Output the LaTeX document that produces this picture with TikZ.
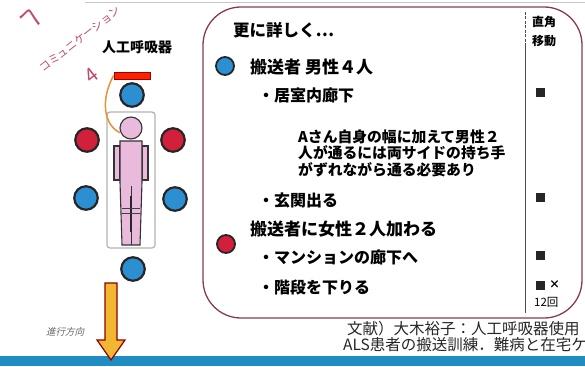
\documentclass[tikz,border=0pt]{standalone}
\usepackage{fontspec}
\setmainfont{Noto Sans CJK JP}
\newfontfamily\slantjp{Noto Sans CJK JP}[FakeSlant=0.25]
\newcommand{\jpsize}[1]{\fontsize{#1}{#1}\selectfont}

\definecolor{bluefill}{HTML}{2C8FD2}
\definecolor{redfill}{HTML}{D21F3C}
\definecolor{skin}{HTML}{E9BADC}
\definecolor{boxline}{HTML}{8A3A48}
\definecolor{pen}{HTML}{C4486A}
\definecolor{tubecol}{HTML}{E3923A}
\definecolor{arrowfill}{HTML}{F2B731}
\definecolor{barblue}{HTML}{1F8DC2}

\begin{document}
\begin{tikzpicture}[x=1pt,y=-1pt,
    bluedot/.style={circle,draw=black!85,line width=2.2pt,fill=bluefill,minimum size=23.5pt,inner sep=0pt},
    reddot/.style={bluedot,fill=redfill},
    keydot/.style={circle,draw=black!85,line width=1.8pt,minimum size=18pt,inner sep=0pt},
    item/.style={anchor=west,inner sep=0pt,font=\bfseries\jpsize{17}},
    subitem/.style={item,font=\bfseries\jpsize{16}},
    sqmark/.style={fill=black!85,minimum size=9pt,inner sep=0pt},
    body/.style={fill=skin,draw=black!80,line width=1.1pt},
    handnote/.style={text=pen,inner sep=0pt},
  ]
\useasboundingbox (0,0) rectangle (585,366);
\clip (0,0) rectangle (585,366);

% scan edge and bottom bar
\draw[black!22,line width=1pt] (85,2.5) -- (585,2.5);
\fill[barblue] (0,356) rectangle (585,366);

% --- left: patient on stretcher with carriers ---
\node[font=\bfseries\jpsize{14}] (ventlabel) at (137,47) {人工呼吸器};
\node[fill=red!75!orange,draw=red!60!black,line width=0.8pt,minimum width=36pt,minimum height=7pt,inner sep=0pt] (vent) at (132,75.5) {};
\draw[black!30,line width=1.2pt,rounded corners=3] (107,112) rectangle (155,248);

% arms, body, head
\draw[body] (114,146) rectangle (120,180);
\draw[body] (142,146) rectangle (148,180);
\draw[body] (120,141) -- (142,141) -- (142,182) -- (140,245) -- (122,245) -- (120,182) -- cycle;
\draw[black!80,line width=0.8pt] (131,186) -- (131,245);
\draw[black!85,line width=1.6pt] (131,196) -- (131,232);
\draw[black!75,line width=0.8pt] (122,208) -- (140,208) (122,213) -- (140,213);
\node[circle,body,minimum size=22pt,inner sep=0pt] (head) at (131,128) {};
\draw[tubecol,line width=1.5pt] (vent.west) .. controls (100,100) and (104,126) .. (head.205);

\node[bluedot] (c1) at (132,95) {};
\node[reddot] (c2) at (87,140) {};
\node[reddot] (c3) at (173,140) {};
\node[bluedot] (c4) at (86,198) {};
\node[bluedot] (c5) at (175,199) {};
\node[bluedot] (c6) at (133,269) {};

% direction of travel
\draw[fill=arrowfill,draw=red!55!black,line width=1.2pt,line join=miter]
  (105,283) -- (117,283) -- (117,340) -- (125,340) -- (111,360) -- (97,340) -- (105,340) -- cycle;
\node[text=black!60,font=\slantjp\jpsize{9.5}] (dir) at (65,332) {進行方向};

% pen notes
\node[handnote,font=\jpsize{24},rotate=-8] (pen1) at (30,17) {へ};
\node[handnote,font=\jpsize{11},rotate=38] (pen2) at (80,39) {コミュニケーション};
\node[handnote,font=\jpsize{20},rotate=38] (pen3) at (91,75) {4};

% --- right: details box ---
\draw[boxline,line width=1.3pt,rounded corners=38] (203,7) rectangle (582,318);
\draw[black!70,line width=0.9pt,dash pattern=on 3pt off 1.5pt] (525,12) -- (525,45);
\draw[black!70,line width=0.9pt] (525,45) -- (525,313);

\node[item,font=\bfseries\jpsize{16.5}] (more) at (233,30) {更に詳しく…};
\node[keydot,fill=bluefill] (kblue) at (225,66) {};
\node[item] (men) at (250,67) {搬送者 男性４人};
\node[subitem] (room) at (258,95) {・居室内廊下};
\node[anchor=north west,inner sep=0pt,align=left,font=\bfseries\fontsize{14.8}{16.5}\selectfont] (note) at (298,129.6)
  {Aさん自身の幅に加えて男性２\\人が通るには両サイドの持ち手\\がずれながら通る必要あり};
\node[subitem] (door) at (258,200) {・玄関出る};
\node[item] (women) at (250,229) {搬送者に女性２人加わる};
\node[keydot,fill=redfill] (kred) at (226,244) {};
\node[subitem] (hall) at (258,257) {・マンションの廊下へ};
\node[subitem] (stairs) at (258,287) {・階段を下りる};

% right column
\node[anchor=north west,inner sep=0pt,align=left,font=\bfseries\fontsize{12}{19}\selectfont] (turn) at (532,16) {直角\\移動};
\node[sqmark] (q1) at (540,93) {};
\node[sqmark] (q2) at (540,197) {};
\node[sqmark] (q3) at (540,255) {};
\node[sqmark] (q4) at (540,285) {};
\node[anchor=west,inner sep=0pt,font=\bfseries\jpsize{11}] (times) at (549,285) {×};
\node[anchor=west,inner sep=0pt,font=\jpsize{11.5}] (count) at (534,302) {12回};

% reference
\node[anchor=west,inner sep=0pt,text=black!85,font=\jpsize{15.5}] (ref1) at (347,329) {文献）大木裕子：人工呼吸器使用};
\node[anchor=west,inner sep=0pt,text=black!85,font=\jpsize{15.5}] (ref2) at (343,345) {ALS患者の搬送訓練．難病と在宅ケ};
\end{tikzpicture}
\end{document}
